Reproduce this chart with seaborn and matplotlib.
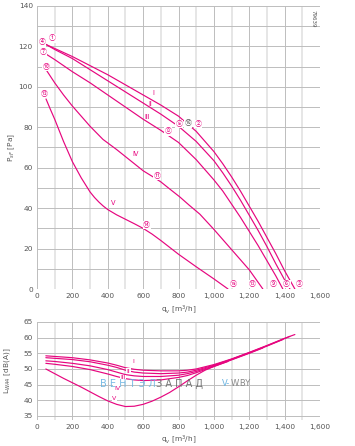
import matplotlib
matplotlib.use("Agg")
import matplotlib.pyplot as plt
import seaborn as sns
import pandas as pd

# ---------------- data ----------------
curve_names = ["I", "II", "III", "IV", "V"]

# pressure curves (q_v [m3/h], p_sF [Pa])
p_I_x = [50, 100, 200, 300, 400, 500, 600, 700, 800, 900, 1000, 1050, 1100, 1150, 1200, 1250, 1300, 1350, 1400, 1458]
p_I_y = [121, 119, 115, 110.5, 106, 101, 96, 91, 85.5, 78, 68, 62, 55.5, 48.5, 41, 33.5, 25.5, 17.5, 9, 0]
p_II_x = [50, 100, 200, 300, 400, 500, 600, 700, 800, 900, 1000, 1050, 1100, 1150, 1200, 1250, 1300, 1350, 1400, 1430]
p_II_y = [121, 118.5, 114, 108.5, 103, 97.5, 92, 86.5, 80.5, 73, 63.5, 57.5, 51, 44, 36.5, 29, 21, 12.5, 4.5, 0]
p_III_x = [55, 100, 200, 300, 400, 500, 600, 700, 800, 900, 1000, 1050, 1100, 1150, 1200, 1250, 1300, 1350, 1390]
p_III_y = [116, 113.5, 107.5, 102, 96, 90, 84, 78.5, 72.5, 64, 54, 48.5, 42, 35.5, 28.5, 21.5, 14, 6.5, 0]
p_IV_x = [55, 100, 150, 200, 250, 300, 373, 450, 500, 550, 600, 650, 700, 750, 808, 860, 921, 1000, 1050, 1100, 1150, 1200, 1277]
p_IV_y = [108, 102, 96, 90.5, 85.5, 80.5, 74, 69, 65.5, 62, 58.5, 55.8, 53, 49.5, 45.5, 41.5, 37, 29.5, 24.5, 19.5, 14.5, 9.5, 0]
p_V_x = [51, 75, 100, 125, 150, 175, 200, 225, 250, 275, 300, 325, 350, 375, 400, 450, 500, 550, 600, 650, 700, 750, 800, 900, 1000, 1080]
p_V_y = [94, 89, 84, 78.5, 73, 68, 63, 59, 55, 51.5, 48, 45.3, 43, 41, 39.3, 36.7, 34.5, 32.3, 30, 27.2, 24, 20.6, 17.2, 11, 5, 0]

# sound power curves (q_v [m3/h], L_WA4 [dB(A)])
n_I_x = [50, 100, 200, 300, 400, 450, 500, 550, 600, 700, 800, 850, 900, 950, 1000, 1100, 1200, 1300, 1400, 1458]
n_I_y = [54.2, 54.0, 53.6, 52.9, 51.9, 51.2, 50.4, 49.9, 49.6, 49.4, 49.4, 49.6, 50.0, 50.7, 51.4, 53.2, 55.3, 57.5, 59.8, 61.0]
n_II_x = [50, 100, 200, 300, 400, 450, 500, 550, 600, 700, 800, 850, 900, 950, 1000, 1100, 1200, 1300, 1430]
n_II_y = [53.6, 53.4, 53.0, 52.3, 51.2, 50.5, 49.6, 49.0, 48.7, 48.5, 48.7, 49.0, 49.6, 50.4, 51.2, 53.1, 55.2, 57.4, 60.4]
n_III_x = [50, 100, 200, 300, 400, 450, 500, 550, 600, 700, 800, 850, 900, 950, 1000, 1100, 1200, 1300, 1390]
n_III_y = [52.6, 52.4, 51.8, 51.0, 49.8, 49.0, 48.2, 47.8, 47.6, 47.6, 48.0, 48.5, 49.2, 50.1, 51.0, 53.0, 55.1, 57.3, 59.4]
n_IV_x = [50, 100, 200, 300, 400, 450, 500, 550, 600, 700, 800, 850, 900, 950, 1000, 1100, 1200, 1277]
n_IV_y = [51.8, 51.5, 50.8, 49.8, 48.4, 47.6, 46.9, 46.5, 46.3, 46.5, 47.3, 47.9, 48.8, 49.8, 50.8, 52.9, 55.0, 56.7]
n_V_x = [50, 100, 150, 200, 250, 300, 350, 400, 450, 500, 550, 600, 650, 700, 750, 800, 850, 900, 950, 1000, 1080]
n_V_y = [50.0, 48.5, 47.0, 45.6, 44.2, 42.7, 41.2, 39.8, 38.7, 38.0, 38.1, 38.7, 39.7, 41.0, 42.5, 44.3, 46.2, 48.0, 49.6, 50.8, 52.4]

# operating point labels in pressure chart
pt_labels = ["①", "④", "⑦", "⑩", "⑬", "②", "⑤", "⑧", "⑪", "⑭", "⑯", "③", "⑥", "⑨", "⑫", "⑮"]
pt_x = [85, 28, 34, 51, 40, 910, 802, 740, 678, 620, 853, 1480, 1412, 1333, 1215, 1107]
pt_y = [124, 122, 117, 110, 96.5, 81.7, 81.7, 78, 56, 31.7, 82, 2.5, 2.5, 2.5, 2.5, 2.5]
pt_dark = [False] * 10 + [True] + [False] * 5

# curve labels in pressure chart
cl_text = ["I", "II", "III", "IV", "V"]
cl_x = [657, 640, 623, 559, 429]
cl_y = [97, 91.6, 85, 67, 42.5]

# curve labels in sound chart
sl_text = ["I", "II", "III", "IV", "V"]
sl_x = [542, 518, 486, 452, 437]
sl_y = [52.4, 49.3, 47.2, 43.9, 40.6]

x_ticks = [0, 200, 400, 600, 800, 1000, 1200, 1400, 1600]
x_ticklabels = ["0", "200", "400", "600", "800", "1,000", "1,200", "1,400", "1,600"]
p_ticks = [0, 20, 40, 60, 80, 100, 120, 140]
n_ticks = [35, 40, 45, 50, 55, 60, 65]

# ---------------- build frames ----------------
def frame(xs, ys, names):
    rows = []
    for xv, yv, nm in zip(xs, ys, names):
        for a, b in zip(xv, yv):
            rows.append({"q": a, "v": b, "curve": nm})
    return pd.DataFrame(rows)

df_p = frame([p_I_x, p_II_x, p_III_x, p_IV_x, p_V_x],
             [p_I_y, p_II_y, p_III_y, p_IV_y, p_V_y], curve_names)
df_n = frame([n_I_x, n_II_x, n_III_x, n_IV_x, n_V_x],
             [n_I_y, n_II_y, n_III_y, n_IV_y, n_V_y], curve_names)

MAG = "#e6067f"
GRID = "#bdbdbd"
GRID_L = "#e4e4e4"
TXT = "#555555"

sns.set_style("white")
plt.rcParams["font.family"] = ["DejaVu Sans", "Noto Sans CJK JP"]

W, H = 355, 446
fig = plt.figure(figsize=(W / 100, H / 100), dpi=100)

def px_rect(l, t, r, b):
    return [l / W, 1 - b / H, (r - l) / W, (b - t) / H]

ax1 = fig.add_axes(px_rect(37, 6, 320, 289))
ax2 = fig.add_axes(px_rect(37, 322, 320, 420))

pal = {nm: MAG for nm in curve_names}

def style_axis(ax, ylo, yhi, yticks, ystart, ystep):
    ax.set_xlim(0, 1600)
    ax.set_ylim(ylo, yhi)
    for xv in range(0, 1601, 100):
        if xv % 200 == 0:
            ax.axvline(xv, color=GRID, lw=0.7, zorder=0)
        else:
            ax.axvline(xv, color=GRID_L, lw=1.3, zorder=0)
    yv = ystart
    while yv <= yhi + 1e-9:
        ax.axhline(yv, color=GRID, lw=0.7, zorder=0)
        yv += ystep
    ax.set_xticks(x_ticks)
    ax.set_xticklabels(x_ticklabels)
    ax.set_yticks(yticks)
    ax.tick_params(length=0, labelsize=5.3, colors=TXT, pad=3)
    for s in ax.spines.values():
        s.set_visible(False)

sns.lineplot(data=df_p, x="q", y="v", hue="curve", palette=pal, sort=False,
             estimator=None, lw=0.85, legend=False, ax=ax1, zorder=3)
style_axis(ax1, 0, 140, p_ticks, 0, 10)
ax1.set_xlabel(r"q$_v$ [m$^3$/h]", fontsize=5.3, color=TXT, labelpad=3)
ax1.set_ylabel(r"P$_{sF}$ [Pa]", fontsize=5.3, color=TXT)
ax1.yaxis.set_label_coords(-0.072, 0.5)

for t, xv, yv, dk in zip(pt_labels, pt_x, pt_y, pt_dark):
    ax1.text(xv, yv, t, fontsize=5, color=("#555555" if dk else MAG),
             ha="center", va="center", zorder=5,
             family=["Noto Sans CJK JP", "DejaVu Sans"],
             bbox=dict(boxstyle="square,pad=0.05", fc="white", ec="none"))
for t, xv, yv in zip(cl_text, cl_x, cl_y):
    ax1.text(xv, yv, t, fontsize=4.8, color=MAG, ha="center", va="center", zorder=5)

ax1.text(0.985, 0.985, "79639", transform=ax1.transAxes, fontsize=4, color=TXT,
         rotation=270, ha="right", va="top")

sns.lineplot(data=df_n, x="q", y="v", hue="curve", palette=pal, sort=False,
             estimator=None, lw=0.85, legend=False, ax=ax2, zorder=3)
style_axis(ax2, 33.7, 65, n_ticks, 35, 5)
ax2.set_xlabel(r"q$_v$ [m$^3$/h]", fontsize=5.3, color=TXT, labelpad=2)
ax2.set_ylabel(r"L$_{WA4}$ [dB(A)]", fontsize=5.3, color=TXT)
ax2.yaxis.set_label_coords(-0.085, 0.5)
for t, xv, yv in zip(sl_text, sl_x, sl_y):
    ax2.text(xv, yv, t, fontsize=4.5, color=MAG, ha="center", va="center", zorder=5,
             bbox=dict(boxstyle="square,pad=0.08", fc="white", ec="none"))

# watermark
fig.text(100 / W, 1 - 384 / H, "В Е Н Т Э Л", fontsize=7, color="#6ab4e2",
         ha="left", va="center", alpha=0.9)
fig.text(156 / W, 1 - 384 / H, "З А П А Д", fontsize=7, color="#666666",
         ha="left", va="center", alpha=0.9)
fig.text(222 / W, 1 - 384 / H, "V-", fontsize=6, color="#6ab4e2",
         ha="left", va="center")
fig.text(231 / W, 1 - 384 / H, "W.BY", fontsize=6, color="#888888",
         ha="left", va="center")

fig.savefig("out.png", dpi=100)
